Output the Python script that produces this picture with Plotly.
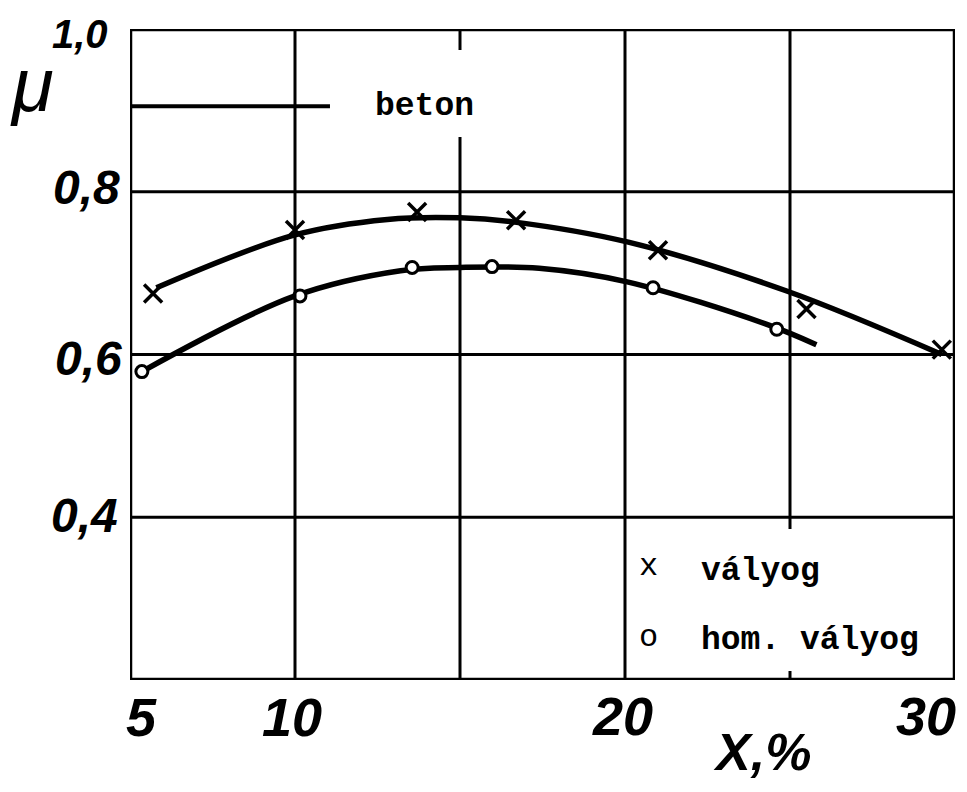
import plotly.graph_objects as go

# measured points (x = X, %, y = mu)
valyog_x = [5.7, 10.0, 13.7, 16.7, 21.0, 25.5, 29.6]
valyog_y = [0.675, 0.753, 0.775, 0.765, 0.728, 0.656, 0.606]

hom_valyog_x = [5.36, 10.15, 13.55, 15.97, 20.85, 24.6]
hom_valyog_y = [0.579, 0.672, 0.707, 0.708, 0.682, 0.631]

# hand drawn fitted curves
valyog_curve_x = [5.8, 10.0, 12.8, 15.0, 16.6, 20.1, 24.9, 29.6]
valyog_curve_y = [0.682, 0.747, 0.766, 0.768, 0.763, 0.738, 0.678, 0.600]

hom_curve_x = [5.36, 10.0, 13.2, 15.0, 17.4, 20.1, 24.3, 25.8]
hom_curve_y = [0.579, 0.672, 0.703, 0.707, 0.706, 0.689, 0.637, 0.612]

# beton reference line
beton_x = [5.0, 11.06]
beton_y = [0.905, 0.905]

x_ticks = [5, 10, 20, 30]
x_tick_text = ["5", "10", "20", "30"]
y_ticks = [0.4, 0.6, 0.8, 1.0]
y_tick_text = ["0,4", "0,6", "0,8", "1,0"]

# page has an 8px body margin, so the figure is a bit smaller than the window
OFF = 8
W, H = 951, 776
L, T = 122, 21
PW, PH = 825, 651
R, B = W - L - PW, H - T - PH
X0, X1 = 5, 30
Y0, Y1 = 0.2, 1.0


def px_x(px):
    # page pixel -> paper x
    return (px - OFF - L) / PW


def px_y(py):
    return 1 - (py - OFF - T) / PH


def dy(py):
    return Y0 + px_y(py) * (Y1 - Y0)


hand = dict(family="Liberation Sans, Arial, sans-serif",
            color="black", style="italic", weight="bold")
mono = dict(family="Liberation Mono, Courier New, monospace", color="black", weight="bold")

fig = go.Figure()

fig.add_trace(go.Scatter(x=beton_x, y=beton_y, mode="lines",
                         line=dict(color="black", width=4), hoverinfo="skip"))
fig.add_trace(go.Scatter(x=valyog_curve_x, y=valyog_curve_y, mode="lines",
                         line=dict(color="black", width=5.5, shape="spline", smoothing=1)))
fig.add_trace(go.Scatter(x=hom_curve_x, y=hom_curve_y, mode="lines",
                         line=dict(color="black", width=5.5, shape="spline", smoothing=1)))
fig.add_trace(go.Scatter(x=valyog_x, y=valyog_y, mode="markers", name="vályog",
                         marker=dict(symbol="x-thin-open", size=18, color="black",
                                     line=dict(color="black", width=3.5))))
fig.add_trace(go.Scatter(x=hom_valyog_x, y=hom_valyog_y, mode="markers", name="hom. vályog",
                         marker=dict(symbol="circle", size=12, color="white",
                                     line=dict(color="black", width=3))))

# grid, drawn by hand in the original (some lines interrupted)
grid = dict(color="black", width=3)
shapes = []
for xv in [10, 20]:
    shapes.append(dict(type="line", x0=xv, x1=xv, y0=Y0, y1=Y1, line=grid))
shapes.append(dict(type="line", x0=15, x1=15, y0=Y0, y1=dy(137), line=grid))
shapes.append(dict(type="line", x0=15, x1=15, y0=dy(50), y1=Y1, line=grid))
shapes.append(dict(type="line", x0=25, x1=25, y0=dy(529), y1=Y1, line=grid))
shapes.append(dict(type="line", x0=25, x1=25, y0=Y0, y1=dy(671), line=grid))
for yv in [0.4, 0.6, 0.8]:
    shapes.append(dict(type="line", x0=X0, x1=X1, y0=yv, y1=yv, line=grid))
shapes.append(dict(type="rect", x0=X0, x1=X1, y0=Y0, y1=Y1,
                   line=dict(color="black", width=4.5), layer="above"))

ann = []


def label(px, py, text, font, xanchor="center"):
    ann.append(dict(xref="paper", yref="paper", x=px_x(px), y=px_y(py), text=text,
                    showarrow=False, xanchor=xanchor, yanchor="middle", font=font))


x_label_pos = {5: (141, 717), 10: (292, 717), 20: (622, 716), 30: (926, 716)}
for v, t in zip(x_ticks, x_tick_text):
    label(*x_label_pos[v], t, dict(hand, size=54))

y_label_pos = {0.4: (84, 515), 0.6: (88, 358), 0.8: (86, 188), 1.0: (80, 34)}
y_label_size = {0.4: 48, 0.6: 48, 0.8: 48, 1.0: 40}
for v, t in zip(y_ticks, y_tick_text):
    label(*y_label_pos[v], t, dict(hand, size=y_label_size[v]))

label(32, 84, "μ", dict(hand, size=76, weight="normal"))
label(762, 752, "X,%", dict(hand, size=52))

label(373, 106, "beton", dict(mono, size=33), "left")
label(648, 566, "x", dict(mono, size=32, weight="normal"))
label(699, 571, "vályog", dict(mono, size=33), "left")
label(648, 637, "o", dict(mono, size=32, weight="normal"))
label(699, 640, "hom. vályog", dict(mono, size=33), "left")

fig.update_layout(
    width=W,
    height=H,
    margin=dict(l=L, r=R, t=T, b=B),
    paper_bgcolor="white",
    plot_bgcolor="white",
    showlegend=False,
    shapes=shapes,
    annotations=ann,
    xaxis=dict(range=[X0, X1], showgrid=False, zeroline=False,
               showticklabels=False, ticks=""),
    yaxis=dict(range=[Y0, Y1], showgrid=False, zeroline=False,
               showticklabels=False, ticks=""),
)

fig.write_html("out.html")
